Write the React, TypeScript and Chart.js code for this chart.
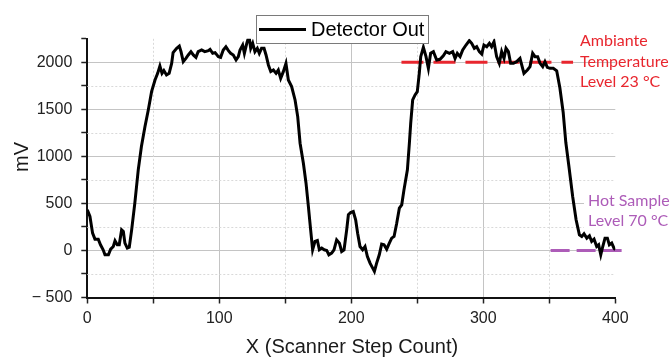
import React, { useEffect, useRef } from "react";
import { Chart, registerables } from "chart.js";

Chart.register(...registerables);

// Scanner step positions (x) and detector output (mV)
const stepX = [
  0, 2, 4, 5.8, 8.3, 10, 12, 13.4, 16, 17.7,
  19.7, 21, 22.7, 24.2, 26, 27.3, 28.5, 30.3, 31.8, 33.6,
  36, 38.6, 41, 43.7, 46.2, 48.7, 51.3, 53.3, 55, 56.6,
  58, 60, 62, 63.9, 65, 67.7, 69.7, 71, 72.7, 74.7,
  76.5, 78.5, 80.3, 82.3, 84, 86.6, 89, 91.7, 93, 95,
  96.8, 99.3, 101, 103, 105, 106.9, 108.6, 110.6, 112.7, 114.4,
  115.7, 117.7, 119, 120.8, 122.5, 123.8, 125.3, 127, 128.8, 130.3,
  132, 133.9, 135.4, 137.2, 139, 141, 143, 144.7, 146.5, 148.5,
  150.5, 152.3, 154.8, 157.4, 159.4, 161.2, 163.7, 165.7, 167.5, 169.2,
  170.7, 172.5, 174.3, 175.8, 177.6, 179.5, 181.4, 183, 185.1, 186.9,
  188.9, 191, 192.7, 194.5, 196.5, 197.8, 199.5, 201.5, 203.3, 204.8,
  206.6, 208.6, 210.4, 212.2, 214.2, 216.2, 217.5, 219.2, 221.2, 223,
  224.8, 226.8, 228.8, 230.6, 232.4, 234.4, 236.4, 238.2, 239.9, 242.5,
  244, 245, 246.5, 248.3, 250, 251.5, 252.6, 254.6, 256.6, 258.4,
  260.1, 262.2, 264.7, 267.2, 269.7, 271.7, 274.3, 276.8, 278.6, 280.3,
  282.4, 284.4, 286.9, 289.4, 291.2, 293.2, 295, 297, 298.8, 300.5,
  302.6, 304.6, 306.3, 308.1, 310.1, 312.1, 313.9, 315.7, 317.2, 319,
  320.7, 322.8, 325.3, 327.8, 329.1, 330.8, 333.4, 335.4, 337.4, 339.2,
  341.2, 343, 345, 346.7, 348.5, 350.5, 353, 355.6, 358, 360.5,
  362.5, 364.8, 367.7, 370.3, 372.8, 374.6, 376.3, 378.4, 380.4, 382.1,
  383.9, 385.9, 387.4, 389, 390.5, 392.2, 394, 395.5, 397.3, 399,
  400,
];

const detectorMv = [
  432, 361, 184, 120, 120, 60, 7, -46, -46, 14,
  42, 103, 60, 60, 219, 202, 78, 25, 35, 219,
  503, 857, 1104, 1317, 1494, 1688, 1812, 1883, 1961, 1883,
  1912, 1865, 1883, 1989, 2103, 2149, 2173, 2113, 2007, 2042,
  2078, 2113, 2078, 2053, 2113, 2131, 2113, 2124, 2138, 2096,
  2103, 2060, 2053, 2131, 2166, 2124, 2096, 2078, 2025, 2060,
  2131, 2184, 2096, 2202, 2280, 2149, 2202, 2113, 2149, 2096,
  2149, 2149, 2078, 1972, 1901, 1918, 1883, 1918, 1830, 1901,
  1989, 1812, 1742, 1600, 1423, 1140, 927, 715, 467, 219,
  7, 96, 106, 7, 25, 7, 0, -46, -28, 7,
  113, 78, -11, 7, 219, 379, 403, 414, 326, 184,
  42, 7, 42, -64, -135, -188, -223, -135, -46, 67,
  60, 14, 78, 131, 149, 290, 450, 485, 644, 857,
  1140, 1352, 1600, 1653, 1688, 1883, 2060, 2159, 2060, 1936,
  2096, 2113, 2025, 2032, 2070, 2113, 2096, 2113, 2042, 2096,
  2060, 2131, 2184, 2230, 2202, 2149, 2166, 2113, 2088, 2184,
  2166, 2202, 2166, 2219, 2060, 1989, 2113, 2042, 2149, 2113,
  1989, 1989, 2007, 2042, 1972, 1883, 1918, 1954, 2096, 2060,
  2060, 1989, 1954, 2007, 1947, 1936, 1936, 1910, 1730, 1470,
  1150, 900, 573, 326, 166, 149, 177, 131, 156, 96,
  120, 42, 60, -46, 42, 131, 131, 60, 78, 25,
  7,
];

// Reference levels
const ambientX = [238, 368];
const ambientMv = [2000, 2000];
const hotX = [351, 405];
const hotMv = [0, 0];

const xTicksMajor = [0, 100, 200, 300, 400];
const yTicksMajor = [-500, 0, 500, 1000, 1500, 2000];

const ambientLabel = ["Ambiante", "Temperature", "Level 23 °C"];
const hotLabel = ["Hot Sample", "Level 70 °C"];
const legendLabel = "Detector Out";
const xTitle = "X (Scanner Step Count)";
const yTitle = "mV";

const RED = "#e8262e";
const PURPLE = "#ad5cb8";
const GRID = "#c4c4c4";
const FONT = "'Liberation Sans', Arial, sans-serif";

const decor = {
  id: "decor",
  beforeDatasetsDraw(chart: any) {
    const { ctx, chartArea, scales } = chart;
    const xs = scales.x;
    const ys = scales.y;
    ctx.save();
    ctx.strokeStyle = "#d9d9d9";
    ctx.lineWidth = 1;
    ctx.setLineDash([2, 2]);
    xs.ticks.forEach((t: any) => {
      if (t.value % 100 !== 0) {
        const px = Math.round(xs.getPixelForValue(t.value)) + 0.5;
        ctx.beginPath();
        ctx.moveTo(px, chartArea.top);
        ctx.lineTo(px, chartArea.bottom);
        ctx.stroke();
      }
    });
    ys.ticks.forEach((t: any) => {
      if (t.value % 500 !== 0 && t.value < 2250) {
        const py = Math.round(ys.getPixelForValue(t.value)) + 0.5;
        ctx.beginPath();
        ctx.moveTo(chartArea.left, py);
        ctx.lineTo(chartArea.right, py);
        ctx.stroke();
      }
    });
    ctx.restore();
  },
  afterDraw(chart: any) {
    const { ctx } = chart;
    ctx.save();
    // legend
    ctx.fillStyle = "#fff";
    ctx.fillRect(256.5, 15.5, 172, 28);
    ctx.strokeStyle = "#7a7a7a";
    ctx.lineWidth = 1;
    ctx.setLineDash([]);
    ctx.strokeRect(256.5, 15.5, 172, 28);
    ctx.strokeStyle = "#000";
    ctx.lineWidth = 3;
    ctx.beginPath();
    ctx.moveTo(259, 29.5);
    ctx.lineTo(306, 29.5);
    ctx.stroke();
    ctx.fillStyle = "#000";
    ctx.font = `20px ${FONT}`;
    ctx.textAlign = "left";
    ctx.textBaseline = "middle";
    ctx.fillText(legendLabel, 311, 30);

    // axis titles
    ctx.fillStyle = "#1a1a1a";
    ctx.font = `20px ${FONT}`;
    ctx.textAlign = "center";
    ctx.fillText(xTitle, 352, 347);
    ctx.save();
    ctx.translate(22, 157);
    ctx.rotate(-Math.PI / 2);
    ctx.fillText(yTitle, 0, 0);
    ctx.restore();

    // annotations
    ctx.font = "16px Lato, 'Open Sans', sans-serif";
    ctx.textAlign = "left";
    ctx.fillStyle = RED;
    ambientLabel.forEach((s, i) => ctx.fillText(s, 580, 41 + i * 20.5));
    ctx.fillStyle = "#fff";
    ctx.fillRect(584, 192, 86, 38);
    ctx.fillStyle = PURPLE;
    hotLabel.forEach((s, i) => ctx.fillText(s, 588, 201 + i * 20));
    ctx.restore();
  },
};

export default function App() {
  const ref = useRef<HTMLCanvasElement | null>(null);
  useEffect(() => {
    if (!ref.current) return;
    const chart = new Chart(ref.current, {
      type: "line",
      data: {
        datasets: [
          {
            label: legendLabel,
            data: stepX.map((x, i) => ({ x, y: detectorMv[i] })),
            borderColor: "#000",
            borderWidth: 3,
            pointRadius: 0,
            tension: 0,
            order: 0,
          },
          {
            label: "ambient",
            data: ambientX.map((x, i) => ({ x, y: ambientMv[i] })),
            borderColor: RED,
            borderWidth: 3,
            borderDash: [22, 10],
            pointRadius: 0,
            clip: false as any,
            order: 1,
          },
          {
            label: "hot",
            data: hotX.map((x, i) => ({ x, y: hotMv[i] })),
            borderColor: PURPLE,
            borderWidth: 3,
            borderDash: [19, 7],
            pointRadius: 0,
            clip: false as any,
            order: 1,
          },
        ],
      },
      options: {
        animation: false,
        responsive: false,
        devicePixelRatio: 1,
        layout: { padding: { top: 38.8, right: 54.7, bottom: 0, left: 0 } },
        plugins: { legend: { display: false }, tooltip: { enabled: false } },
        scales: {
          x: {
            type: "linear",
            min: 0,
            max: 400,
            afterFit: (s: any) => {
              s.height = 63.5;
            },
            ticks: {
              stepSize: 50,
              autoSkip: false,
              maxRotation: 0,
              padding: 5,
              color: "#222",
              font: { family: FONT, size: 16 },
              callback: (v: any) => (xTicksMajor.includes(v) ? String(v) : ""),
            },
            grid: {
              color: (c: any) =>
                c.tick && c.tick.value % 100 === 0 && c.tick.value > 0 && c.tick.value < 400
                  ? GRID
                  : "rgba(0,0,0,0)",
              lineWidth: 1,
              tickColor: "#222",
              tickLength: 6,
              tickWidth: 1.5,
            },
            border: { color: "#111", width: 2 },
          },
          y: {
            type: "linear",
            min: -500,
            max: 2250,
            afterFit: (s: any) => {
              s.width = 87.3;
            },
            ticks: {
              stepSize: 250,
              autoSkip: false,
              padding: 9,
              color: "#222",
              font: { family: FONT, size: 16 },
              callback: (v: any) =>
                yTicksMajor.includes(v) ? (v < 0 ? "− " + String(-v) : String(v)) : "",
            },
            grid: {
              color: (c: any) =>
                c.tick && c.tick.value % 500 === 0 && c.tick.value > -500 ? GRID : "rgba(0,0,0,0)",
              lineWidth: 1,
              tickColor: "#222",
              tickLength: 6,
              tickWidth: 1.5,
            },
            border: { color: "#111", width: 2 },
          },
        },
      },
      plugins: [decor],
    });
    return () => chart.destroy();
  }, []);
  return (
    <div style={{ position: "absolute", left: 0, top: 0, width: 670, height: 361, background: "#fff" }}>
      <canvas ref={ref} width={670} height={361} style={{ width: 670, height: 361 }} />
    </div>
  );
}
